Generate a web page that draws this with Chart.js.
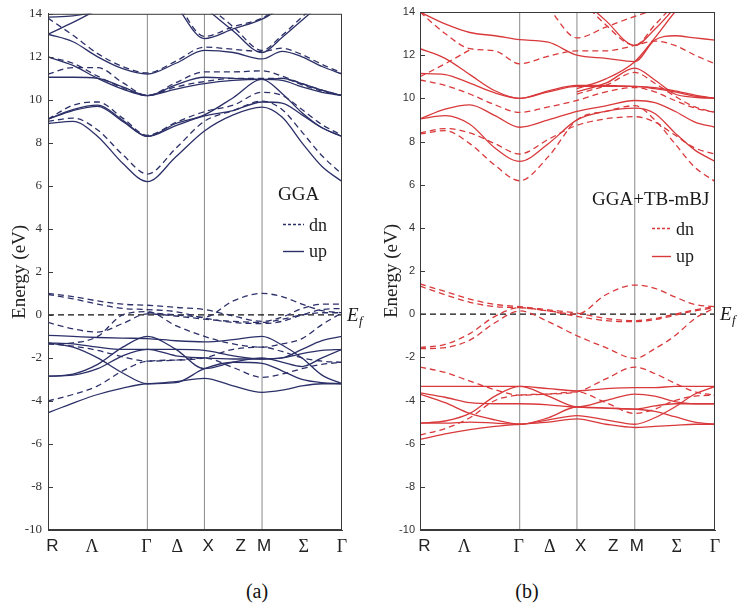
<!DOCTYPE html>
<html>
<head>
<meta charset="utf-8">
<script src="https://cdn.jsdelivr.net/npm/chart.js@4.4.1/dist/chart.umd.min.js"></script>
<style>
  body { margin: 0; background: #fff; }
  #wrap { position: relative; width: 737px; height: 610px; overflow: hidden; }
  canvas { position: absolute; top: 0; }
  #band-a { left: 0; }
  #band-b { left: 372px; }
  .caption { position: absolute; top: 580px; font: 20px "Liberation Serif", serif; color: #111; transform: translateX(-50%); }
</style>
</head>
<body>
<div id="wrap">
  <canvas id="band-a" width="370" height="570"></canvas>
  <canvas id="band-b" width="365" height="570"></canvas>
  <div class="caption" style="left:257px">(a)</div>
  <div class="caption" style="left:527px">(b)</div>
</div>
<script>
// k-path sample positions, as a fraction of the R-Γ-X-M-Γ path length
const kPath = [0, 0.085, 0.169, 0.254, 0.338, 0.435, 0.532, 0.63, 0.728, 0.796, 0.864, 0.932, 1.0];
// high-symmetry points Γ, X, M (vertical lines)
const symPoints = [0.338, 0.532, 0.728];
const kTickPos = [0.015, 0.15, 0.335, 0.44, 0.545, 0.655, 0.735, 0.87, 1.0];
const kTickLabels = ["R", "Λ", "Γ", "Δ", "X", "Z", "M", "Σ", "Γ"];
const greekLabels = ["Λ", "Γ", "Δ", "Σ"];

// GGA, spin up (eV at each kPath point, null = off the plot)
const ggaUp = [
  [8.9, 9.0, 8.3, 7.05, 6.2, 7.35, 8.55, 9.3, 9.66, 9.2, 8.0, 6.9, 6.2],
  [9.1, 9.55, 9.75, 9.05, 8.3, 8.8, 9.25, 9.5, 9.9, 9.85, 9.3, 8.7, 8.3],
  [9.1, 9.5, 9.7, 9.0, 8.3, 8.9, 9.3, 10.1, 10.95, 10.3, 9.4, 8.7, 8.3],
  [12.0, 11.6, 11.0, 10.5, 10.2, 10.5, 10.75, 10.9, 10.95, 10.9, 10.6, 10.35, 10.2],
  [11.05, 11.05, 11.0, 10.6, 10.2, 10.7, 11.05, 11.0, 10.95, 11.0, 10.75, 10.45, 10.2],
  [13.05, 12.7, 12.0, 11.45, 11.2, 11.7, 12.3, 12.2, 11.9, 12.25, 12.0, 11.55, 11.2],
  [null, null, null, null, null, null, 14.3, 13.2, 12.2, 12.9, 13.7, 14.5, null],
  [null, null, null, null, null, 14.4, 12.85, 13.3, 13.75, 14.3, null, null, null],
  [13.05, 13.6, 14.2, null, null, null, null, null, null, null, null, null, null],
  [13.85, 13.9, 14.1, null, null, null, null, null, null, null, null, null, null],
  [-0.95, -1.0, -1.05, -1.08, -1.1, -1.2, -1.25, -1.15, -1.0, -1.4, -2.0, -2.8, -3.2],
  [-1.3, -1.5, -2.0, -2.7, -3.2, -3.1, -2.95, -3.3, -3.6, -3.5, -3.3, -3.2, -3.2],
  [-2.85, -2.75, -2.3, -1.5, -1.0, -1.6, -2.5, -2.2, -2.0, -2.2, -2.4, -2.0, -1.6],
  [-2.85, -2.8, -2.5, -1.9, -1.6, -1.6, -1.65, -1.9, -2.05, -2.0, -1.8, -1.65, -1.6],
  [-4.55, -4.1, -3.7, -3.4, -3.2, -3.15, -2.5, -2.2, -2.25, -2.6, -3.0, -3.15, -3.2],
  [-1.3, -1.35, -1.5, -1.6, -1.6, -1.9, -2.0, -2.05, -2.05, -2.0, -1.6, -1.2, -1.0],
];

// GGA, spin down
const ggaDn = [
  [9.0, 9.15, 8.6, 7.45, 6.55, 7.75, 9.0, 9.5, 9.94, 9.55, 8.5, 7.4, 6.55],
  [9.1, 9.75, 9.9, 9.15, 8.35, 8.95, 9.45, 9.75, 10.35, 10.2, 9.55, 8.85, 8.35],
  [12.0, 11.7, 11.1, 10.55, 10.2, 10.6, 10.85, 11.0, 11.0, 11.0, 10.7, 10.4, 10.2],
  [11.2, 11.5, 11.5, 10.8, 10.2, 10.8, 11.3, 11.3, 11.35, 11.1, 10.75, 10.45, 10.2],
  [13.8, 13.0, 12.15, 11.55, 11.25, 11.8, 12.45, 12.35, 12.25, 12.4, 12.1, 11.65, 11.25],
  [null, null, null, null, null, null, 14.5, 13.4, 12.3, 13.0, 13.85, 14.7, null],
  [null, null, null, null, null, 14.6, 12.95, 13.4, 13.8, 14.4, null, null, null],
  [1.0, 0.85, 0.65, 0.5, 0.45, 0.35, 0.25, -0.05, -0.3, -0.1, 0.3, 0.5, 0.5],
  [0.95, 0.75, 0.5, 0.3, 0.25, 0.15, -0.15, -0.35, -0.4, -0.3, 0.0, 0.25, 0.3],
  [-0.35, -0.65, -0.8, -0.4, 0.05, -0.05, -0.2, -0.3, -0.35, -0.2, 0.0, 0.1, 0.1],
  [-1.35, -1.3, -1.0, 0.0, 0.15, -0.5, -1.0, -1.35, -1.5, -1.35, -1.1, -0.45, 0.1],
  [null, null, null, null, 0.1, 0.0, -0.1, 0.65, 1.0, 0.85, 0.5, 0.2, 0.1],
  [-1.35, -1.45, -1.65, -1.95, -2.15, -2.1, -2.0, -2.45, -2.9, -2.75, -2.5, -2.3, -2.2],
  [-4.0, -3.7, -3.3, -2.6, -2.15, -2.1, -2.0, -1.6, -1.5, -1.7, -2.0, -2.15, -2.2],
];

// GGA+TB-mBJ, spin up
const mbjUp = [
  [14.0, 13.45, 13.05, 12.9, 12.72, 12.6, 12.0, 11.85, 11.7, 12.7, 12.9, 12.8, 12.7],
  [12.3, 11.85, 11.1, 10.35, 10.0, 10.3, 10.55, 10.55, 10.55, 10.45, 10.3, 10.1, 10.0],
  [11.15, 11.1, 10.7, 10.25, 10.0, 10.35, 10.6, 10.6, 10.55, 10.5, 10.35, 10.15, 10.0],
  [9.05, 9.5, 9.7, 9.2, 8.66, 9.0, 9.4, 9.65, 9.9, 9.8, 9.4, 8.9, 8.66],
  [9.05, 9.2, 8.8, 7.7, 7.08, 7.9, 9.0, 9.4, 9.55, 9.3, 8.4, 7.6, 7.08],
  [null, null, null, null, null, null, 10.3, 10.7, 11.4, 10.85, 10.2, 10.05, 10.0],
  [null, null, null, null, null, null, 10.45, 10.9, 11.7, 12.8, 14.0, 15.0, null],
  [null, null, null, null, null, null, 14.8, 13.6, 12.45, 13.2, 14.2, null, null],
  [-3.35, -3.35, -3.35, -3.35, -3.35, -3.45, -3.55, -3.45, -3.4, -3.4, -3.35, -3.35, -3.35],
  [-5.05, -4.95, -4.6, -3.8, -3.35, -3.8, -4.3, -4.35, -4.4, -4.5, -4.75, -5.0, -5.1],
  [-3.65, -3.85, -4.1, -4.15, -4.15, -4.2, -4.3, -4.0, -3.7, -3.8, -4.05, -4.15, -4.15],
  [-5.05, -5.05, -5.0, -5.05, -5.1, -4.9, -4.7, -4.9, -5.1, -4.8, -4.3, -3.7, -3.35],
  [-5.8, -5.55, -5.35, -5.2, -5.1, -5.0, -4.85, -5.1, -5.25, -5.2, -5.15, -5.1, -5.1],
  [-3.7, -4.1, -4.6, -4.9, -5.1, -4.8, -4.3, -4.35, -4.4, -4.25, -4.15, -4.15, -4.15],
];

// GGA+TB-mBJ, spin down
const mbjDn = [
  [14.0, 13.0, 12.3, 12.2, 11.6, 11.95, 12.2, 12.2, 12.45, 12.65, 12.45, 12.0, 11.6],
  [11.0, 11.6, 12.25, null, null, null, null, null, null, null, null, null, null],
  [10.85, 10.6, 10.2, 9.7, 9.35, 9.6, 9.9, 10.3, 10.5, 10.3, 9.9, 9.55, 9.35],
  [8.4, 8.6, 8.4, 7.9, 7.42, 8.1, 8.75, 9.05, 9.15, 8.9, 8.3, 7.7, 7.42],
  [8.35, 8.5, 7.9, 6.9, 6.18, 7.3, 9.0, 9.4, 9.66, 9.0, 7.9, 6.8, 6.15],
  [null, null, null, null, null, null, 10.2, 10.6, 11.2, 10.7, 10.1, 9.6, 9.35],
  [null, null, null, null, null, null, 14.8, 13.4, 12.45, 13.4, 14.4, null, null],
  [null, null, null, null, null, 14.2, 12.8, 13.3, 13.8, 14.1, null, null, null],
  [1.4, 1.05, 0.7, 0.45, 0.35, 0.2, 0.05, -0.2, -0.3, -0.2, 0.0, 0.2, 0.35],
  [1.3, 0.9, 0.55, 0.35, 0.3, 0.15, -0.1, -0.3, -0.35, -0.25, -0.05, 0.15, 0.3],
  [-1.55, -1.4, -0.9, -0.1, 0.3, 0.15, 0.0, 0.9, 1.35, 1.2, 0.8, 0.45, 0.35],
  [-1.6, -1.55, -1.2, -0.4, 0.15, -0.35, -1.0, -1.55, -2.05, -1.6, -1.0, -0.2, 0.3],
  [-2.45, -2.7, -3.1, -3.5, -3.75, -3.7, -3.6, -3.0, -2.45, -2.75, -3.2, -3.6, -3.75],
  [-5.6, -5.3, -4.8, -4.0, -3.75, -3.7, -3.6, -4.1, -4.6, -4.4, -4.0, -3.8, -3.75],
];

const fermiLevel = 0;

// Turn a list of bands into line datasets
const bandDatasets = (bands, color, dashed) =>
  bands.map((band) => ({
    data: kPath.map((k, i) => ({ x: k, y: band[i] })),
    borderColor: color,
    borderWidth: 1.3,
    borderDash: dashed ? [6, 4] : [],
    pointRadius: 0,
    cubicInterpolationMode: "monotone",
    spanGaps: false,
    order: 1,
  }));

// Frame, inward y ticks, legend and E_f label
const panelDecor = {
  id: "panelDecor",
  afterDatasetsDraw(chart, args, opts) {
    const { ctx, chartArea: a, scales } = chart;
    ctx.save();
    ctx.strokeStyle = "#3a3a3a";
    ctx.lineWidth = 1;
    ctx.setLineDash([]);
    ctx.strokeRect(a.left + 0.5, a.top + 0.5, a.width - 1, a.height - 1);
    scales.y.ticks.forEach((t) => {
      const py = Math.round(scales.y.getPixelForValue(t.value)) + 0.5;
      ctx.beginPath();
      ctx.moveTo(a.left, py);
      ctx.lineTo(a.left + 5, py);
      ctx.stroke();
    });

    // legend block
    ctx.fillStyle = "#1a1a1a";
    ctx.font = '19px "Liberation Serif"';
    ctx.fillText(opts.title, opts.titleX, opts.titleY);
    ctx.font = '18px "Liberation Serif"';
    ctx.strokeStyle = opts.color;
    ctx.lineWidth = 1.4;
    ctx.setLineDash([3, 2]);
    ctx.beginPath();
    ctx.moveTo(opts.lineX, opts.dnY);
    ctx.lineTo(opts.lineX + opts.lineW, opts.dnY);
    ctx.stroke();
    ctx.setLineDash([]);
    ctx.beginPath();
    ctx.moveTo(opts.lineX, opts.upY);
    ctx.lineTo(opts.lineX + opts.lineW, opts.upY);
    ctx.stroke();
    ctx.fillText("dn", opts.lineX + opts.lineW + 5, opts.dnY + 6);
    ctx.fillText("up", opts.lineX + opts.lineW + 5, opts.upY + 5);

    // Fermi level label
    const fy = scales.y.getPixelForValue(fermiLevel);
    ctx.font = 'italic 19px "Liberation Serif"';
    ctx.fillText("E", a.right + 5, fy + 6);
    ctx.font = 'italic 13px "Liberation Serif"';
    ctx.fillText("f", a.right + 17, fy + 10);
    ctx.restore();
  },
};

const makePanel = (id, up, dn, color, yFont, legend) => {
  const datasets = [
    ...symPoints.map((p) => ({
      data: [{ x: p, y: -10 }, { x: p, y: 14 }],
      borderColor: "#8a8a8a",
      borderWidth: 1,
      pointRadius: 0,
      order: 10,
    })),
    {
      data: [{ x: 0, y: fermiLevel }, { x: 1, y: fermiLevel }],
      borderColor: "#111",
      borderWidth: 1.3,
      borderDash: [6, 4],
      pointRadius: 0,
      order: 5,
    },
    ...bandDatasets(dn, color, true),
    ...bandDatasets(up, color, false),
  ];

  new Chart(document.getElementById(id), {
    type: "line",
    data: { datasets },
    plugins: [panelDecor],
    options: {
      responsive: false,
      animation: false,
      layout: { padding: { left: 0, top: 12, right: legend.padRight, bottom: 0 } },
      plugins: {
        legend: { display: false },
        tooltip: { enabled: false },
        panelDecor: legend,
      },
      scales: {
        x: {
          type: "linear",
          min: 0,
          max: 1,
          grid: { display: false, drawTicks: false },
          border: { display: true, color: "#3a3a3a" },
          afterBuildTicks: (scale) => {
            scale.ticks = kTickPos.map((v) => ({ value: v }));
          },
          afterFit: (scale) => {
            scale.height = 40;
          },
          ticks: {
            autoSkip: false,
            maxRotation: 0,
            padding: 6,
            color: "#222",
            callback: (value, index) => kTickLabels[index],
            font: (c) =>
              greekLabels.includes(kTickLabels[c.index])
                ? { family: "Liberation Serif", size: 18 }
                : { family: "Liberation Sans", size: 17 },
          },
        },
        y: {
          min: -10,
          max: 14,
          grid: { display: false, drawTicks: false },
          border: { display: true, color: "#3a3a3a" },
          afterFit: (scale) => {
            scale.width = 48;
          },
          ticks: {
            stepSize: 2,
            padding: yFont.pad,
            color: "#333",
            font: { family: yFont.family, size: yFont.size },
          },
          title: {
            display: true,
            text: "Energy (eV)",
            color: "#222",
            font: { family: "Liberation Serif", size: 19 },
            padding: { top: 9, bottom: 0 },
          },
        },
      },
    },
  });
};

makePanel("band-a", ggaUp, ggaDn, "#2c3068",
  { family: "Liberation Serif", size: 13, pad: 6 },
  { title: "GGA", titleX: 278, titleY: 200, lineX: 283, lineW: 21, dnY: 224.5, upY: 251.5, color: "#2c3068", padRight: 28 });

makePanel("band-b", mbjUp, mbjDn, "#d9393b",
  { family: "Liberation Sans", size: 11, pad: 5 },
  { title: "GGA+TB-mBJ", titleX: 220, titleY: 205, lineX: 280, lineW: 19, dnY: 228.5, upY: 256.5, color: "#d9393b", padRight: 22 });
</script>
</body>
</html>
